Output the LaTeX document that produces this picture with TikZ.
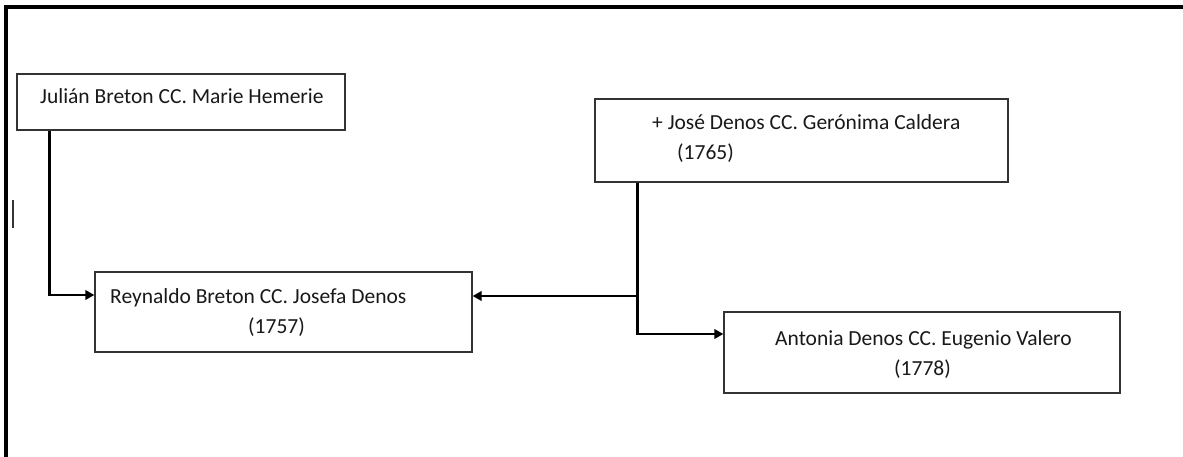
\documentclass[tikz,border=0pt]{standalone}
\usepackage{fontspec}
\setmainfont{Carlito}
\usetikzlibrary{arrows.meta}
\begin{document}
\begin{tikzpicture}[x=1pt,y=-1pt,
  famBox/.style={draw=black!80, line width=1.3pt, rectangle, inner sep=0pt},
  txt/.style={anchor=base west, inner sep=0pt, text=black!90,
    font=\fontsize{21.5}{31}\selectfont},
  link/.style={draw=black, line width=2.4pt},
  arr/.style={link, -{Triangle[length=9pt,width=9.5pt]}}]
  \useasboundingbox (0,0) rectangle (1183,457);
  \fill[white] (0,0) rectangle (1183,457);

  % page frame (left and top edges) and text cursor mark
  \draw[line width=4pt] (6,457) -- (6,7) -- (1183,7);
  \draw[line width=1.2pt, black!80] (13,200) -- (13,228);

  % family boxes
  \node[famBox, minimum width=328pt, minimum height=56pt] (b1) at (181,102) {};
  \node[famBox, minimum width=413pt, minimum height=83pt] (b2) at (801.5,140.5) {};
  \node[famBox, minimum width=377pt, minimum height=80pt] (b3) at (283.5,312) {};
  \node[famBox, minimum width=396pt, minimum height=81pt] (b4) at (922,352.5) {};

  % labels
  \node[txt] (t1) at (40,104) {Julián Breton CC. Marie Hemerie};
  \node[txt] (t2a) at (652,130) {+ José Denos CC. Gerónima Caldera};
  \node[txt] (t2b) at (677,160) {(1765)};
  \node[txt] (t3a) at (110,303) {Reynaldo Breton CC. Josefa Denos};
  \node[txt] (t3b) at (248,333) {(1757)};
  \node[txt] (t4a) at (775,345) {Antonia Denos CC. Eugenio Valero};
  \node[txt] (t4b) at (894,375) {(1778)};

  % connectors
  \coordinate (d1) at ([xshift=33pt]b1.south west);
  \coordinate (e3w) at ([yshift=17pt]b3.west);
  \draw[arr] (d1) |- (e3w);

  \coordinate (d2) at ([xshift=43pt]b2.south west);
  \coordinate (e4w) at ([yshift=18.5pt]b4.west);
  \coordinate (e3e) at ([yshift=16pt]b3.east);
  \coordinate (j) at (d2 |- e3e);
  \draw[arr] (d2) |- (e4w);
  \draw[arr] (j) -- (e3e);
\end{tikzpicture}
\end{document}
